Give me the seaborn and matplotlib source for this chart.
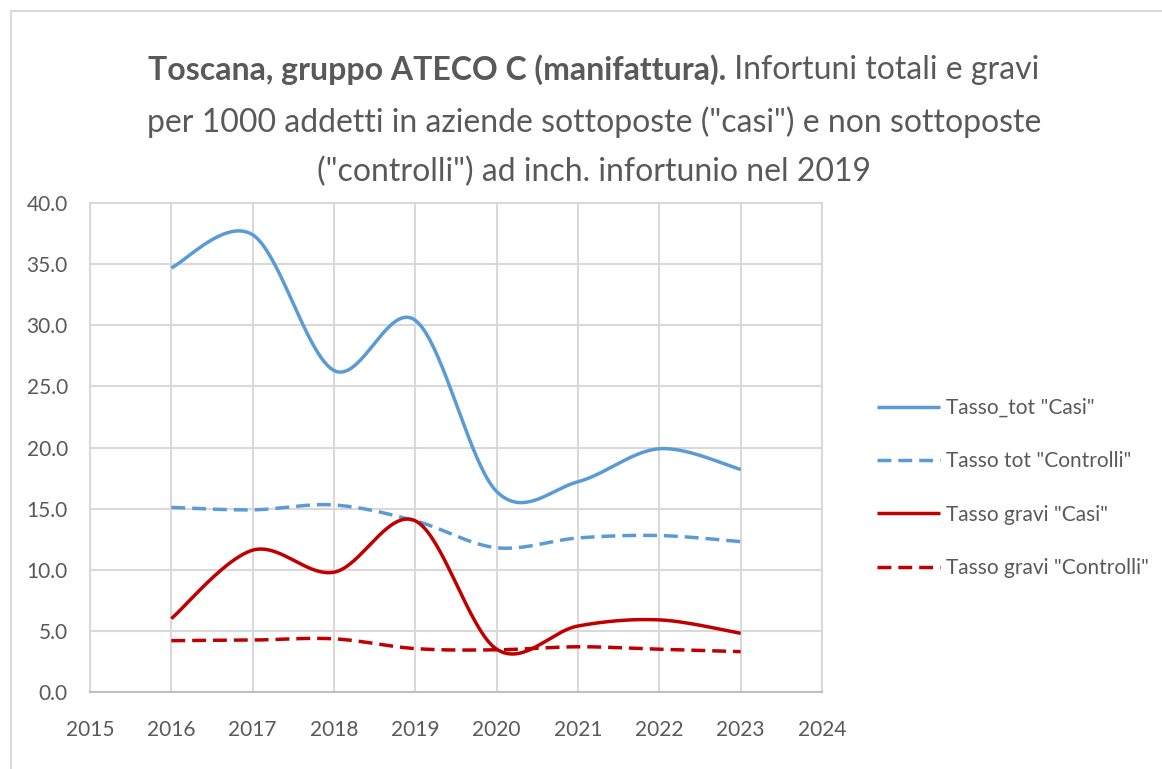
import numpy as np
import pandas as pd
import matplotlib
matplotlib.use("Agg")
import matplotlib.pyplot as plt
import seaborn as sns
from matplotlib.patches import Rectangle

years = [2016, 2017, 2018, 2019, 2020, 2021, 2022, 2023]
tot_casi = [34.7, 37.4, 26.3, 30.4, 16.4, 17.2, 19.9, 18.2]
tot_controlli = [15.1, 14.9, 15.3, 14.0, 11.8, 12.6, 12.8, 12.3]
gravi_casi = [6.0, 11.6, 9.8, 14.0, 3.5, 5.4, 5.9, 4.8]
gravi_controlli = [4.2, 4.25, 4.35, 3.55, 3.45, 3.7, 3.5, 3.3]
series_names = ['Tasso_tot "Casi"', 'Tasso tot "Controlli"',
                'Tasso gravi "Casi"', 'Tasso gravi "Controlli"']
x_ticks = list(range(2015, 2025))
y_ticks = [0, 5, 10, 15, 20, 25, 30, 35, 40]

title_bold = "Toscana, gruppo ATECO C (manifattura)."
title_rest1 = " Infortuni totali e gravi"
title_line2 = 'per 1000 addetti in aziende sottoposte ("casi") e non sottoposte'
title_line3 = '("controlli") ad inch. infortunio nel 2019'


def excel_smooth(x, y, n=40):
    """Catmull-Rom style Bezier smoothing like Excel's smoothed lines."""
    x = np.asarray(x, float)
    y = np.asarray(y, float)
    P = np.column_stack([x, y])
    out = []
    for i in range(len(P) - 1):
        p0 = P[i - 1] if i > 0 else P[i]
        p1 = P[i]
        p2 = P[i + 1]
        p3 = P[i + 2] if i + 2 < len(P) else P[i + 1]
        c1 = p1 + (p2 - p0) / 6.0
        c2 = p2 - (p3 - p1) / 6.0
        t = np.linspace(0, 1, n, endpoint=(i == len(P) - 2))[:, None]
        seg = ((1 - t) ** 3) * p1 + 3 * ((1 - t) ** 2) * t * c1 + 3 * (1 - t) * t ** 2 * c2 + t ** 3 * p2
        out.append(seg)
    out = np.vstack(out)
    return out[:, 0], out[:, 1]


sns.set_theme(style="white")
plt.rcParams["font.family"] = ["Lato", "DejaVu Sans"]

fig = plt.figure(figsize=(11.62, 7.69), dpi=100)
ax = fig.add_axes([90 / 1162, 77 / 769, (822 - 90) / 1162, (692 - 203) / 769])

blue = "#5B9BD5"
red = "#C00000"
styles = [(blue, "-"), (blue, (0, (4, 2))), (red, "-"), (red, (0, (4, 2)))]
all_series = [tot_casi, tot_controlli, gravi_casi, gravi_controlli]

for name, vals, (col, ls) in zip(series_names, all_series, styles):
    sx, sy = excel_smooth(years, vals)
    df = pd.DataFrame({"x": sx, "y": sy})
    sns.lineplot(data=df, x="x", y="y", ax=ax, color=col, linewidth=2.5,
                 linestyle=ls, sort=False, estimator=None, label=name,
                 solid_capstyle="butt", dash_capstyle="butt")

ax.set_xlim(2015, 2024)
ax.set_ylim(0, 40)
ax.set_xticks(x_ticks)
ax.set_xticklabels([str(v) for v in x_ticks])
ax.set_yticks(y_ticks)
ax.set_yticklabels([f"{v:.1f}" for v in y_ticks])
ax.set_xlabel("")
ax.set_ylabel("")
grid_col = "#D9D9D9"
ax.grid(True, color=grid_col, linewidth=1.5)
ax.set_axisbelow(True)
for s in ax.spines.values():
    s.set_color(grid_col)
    s.set_linewidth(1.5)
ax.spines["bottom"].set_color("#BFBFBF")
ax.tick_params(axis="both", colors="#595959", labelsize=15, length=0)
ax.tick_params(axis="y", pad=16)
ax.tick_params(axis="x", pad=20)
for lab in ax.get_xticklabels() + ax.get_yticklabels():
    lab.set_color("#595959")

leg = ax.legend(loc="center left", bbox_to_anchor=(877 / 1162, 1 - 488 / 769),
                bbox_transform=fig.transFigure, frameon=False, fontsize=15,
                handlelength=3.0, handletextpad=0.3, labelspacing=1.6,
                labelcolor="#595959", borderaxespad=0, borderpad=0)
for h in leg.get_lines():
    h.set_linewidth(2.5)

# Chart area border
fig.patches.append(Rectangle((11 / 1162, -0.05), 1.0, 1 - 11 / 769 + 0.05,
                             transform=fig.transFigure, fill=False,
                             edgecolor="#D9D9D9", linewidth=1.5))

# Title
tcol = "#595959"
tsize = 23
fig.canvas.draw()
r = fig.canvas.get_renderer()
tb = fig.text(0, 1 - 70 / 769, title_bold, fontsize=tsize, fontweight="bold",
              color=tcol, va="center", ha="left")
tr = fig.text(0, 1 - 70 / 769, title_rest1, fontsize=tsize, color=tcol,
              va="center", ha="left")
wb = tb.get_window_extent(r).width
wr = tr.get_window_extent(r).width
cx = 594
start = cx - (wb + wr) / 2
tb.set_x(start / 1162)
tr.set_x((start + wb) / 1162)
fig.text(cx / 1162, 1 - 122 / 769, title_line2, fontsize=tsize, color=tcol,
         va="center", ha="center")
fig.text(cx / 1162, 1 - 172 / 769, title_line3, fontsize=tsize, color=tcol,
         va="center", ha="center")

fig.savefig("out.png", dpi=100)
